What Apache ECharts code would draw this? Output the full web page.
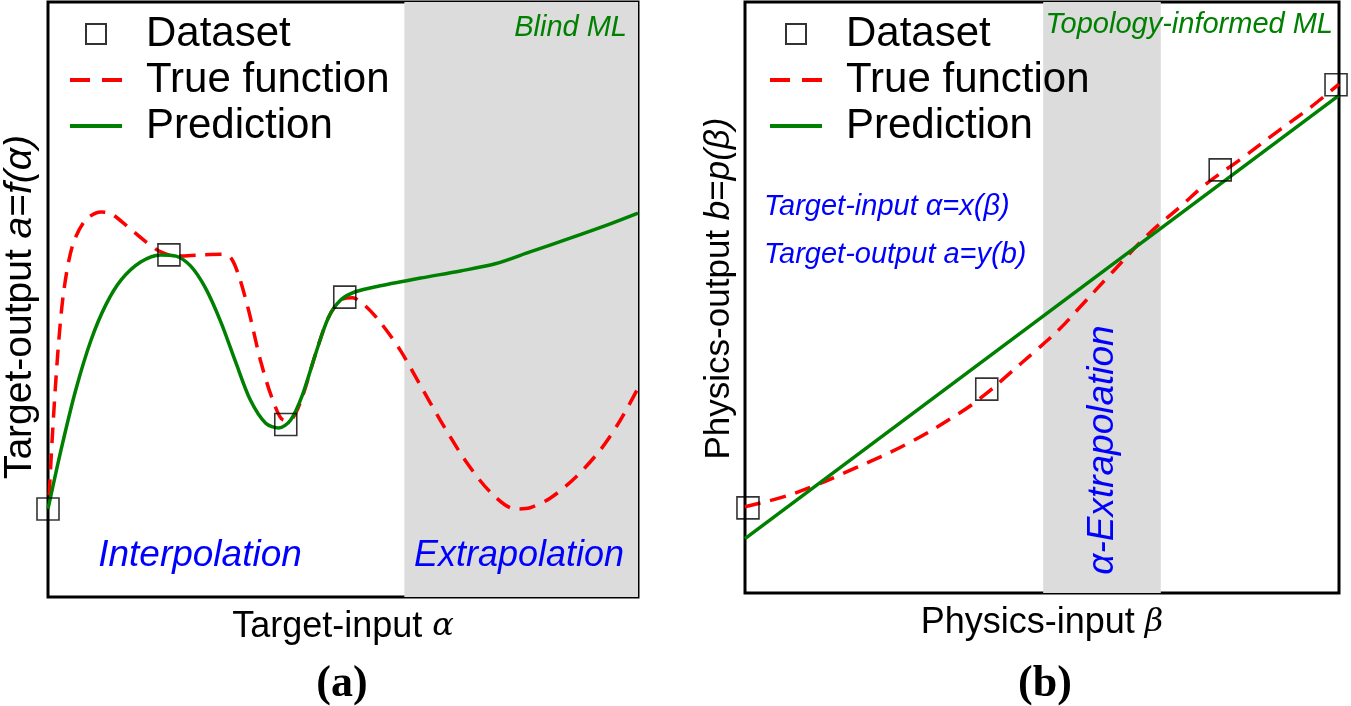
<!DOCTYPE html>
<html>
<head>
<meta charset="utf-8">
<script src="https://cdn.jsdelivr.net/npm/echarts@6/dist/echarts.min.js"></script>
<style>
  html, body { margin: 0; padding: 0; background: #fff; }
  #chart { width: 1351px; height: 706px; }
</style>
</head>
<body>
<div id="chart"></div>
<script>
// panel (a): blind ML
const aTrueX = [0.02, 0.08, 0.17, 0.27, 0.42, 0.64, 0.90, 1.07, 1.32, 1.66, 1.91, 2.17, 2.59, 2.96, 3.10, 3.23, 3.40, 3.60, 3.81, 4.00, 4.15, 4.32, 4.53, 4.75, 4.96, 5.16, 5.38, 5.63, 5.97, 6.31, 6.65, 7.07, 7.50, 7.92, 8.17, 8.51, 8.93, 9.36, 9.70, 10.0];
const aTrueY = [1.71, 2.81, 4.15, 5.16, 5.92, 6.34, 6.47, 6.44, 6.25, 5.97, 5.80, 5.73, 5.75, 5.76, 5.70, 5.41, 4.82, 3.98, 3.31, 2.97, 3.01, 3.39, 4.07, 4.69, 4.99, 5.03, 4.89, 4.62, 4.15, 3.56, 2.97, 2.30, 1.76, 1.48, 1.50, 1.66, 2.00, 2.47, 2.97, 3.51];
const aPredX = [0, 0.22, 0.47, 0.73, 0.98, 1.24, 1.57, 1.91, 2.17, 2.42, 2.67, 2.93, 3.18, 3.43, 3.69, 3.91, 4.11, 4.31, 4.53, 4.75, 4.96, 5.21, 5.63, 6.31, 6.99, 7.58, 8.17, 8.85, 9.53, 10.0];
const aPredY = [1.48, 2.47, 3.48, 4.32, 4.91, 5.33, 5.63, 5.75, 5.73, 5.56, 5.19, 4.62, 3.95, 3.31, 2.92, 2.84, 2.97, 3.39, 4.07, 4.69, 4.99, 5.13, 5.23, 5.36, 5.48, 5.60, 5.80, 6.03, 6.27, 6.45];
const aDataX = [0, 2.05, 4.03, 5.03];
const aDataY = [1.48, 5.75, 2.90, 5.04];
const aExtrap = [6.04, 10];

// panel (b): topology-informed ML
const bTrueX = [0, 0.84, 1.87, 2.76, 3.62, 4.07, 4.46, 4.87, 5.30, 5.66, 6.14, 6.78, 7.32, 7.76, 8.33, 9.02, 9.51, 10.0];
const bTrueY = [1.46, 1.69, 2.12, 2.54, 3.05, 3.38, 3.72, 4.08, 4.47, 4.86, 5.38, 6.06, 6.53, 6.92, 7.33, 7.85, 8.21, 8.61];
const bPredX = [0, 10];
const bPredY = [0.92, 8.42];
const bDataX = [0.05, 4.07, 8.0, 9.95];
const bDataY = [1.44, 3.45, 7.16, 8.60];
const bExtrap = [5.02, 7.0];

const RED = '#ff0000';
const GREEN = '#008000';
const BLUE = '#0000ff';
const FONT = 'Liberation Sans';
// symbol that draws nothing, so the legend shows only the line
const NO_SYMBOL = 'path://M0,0M1,1';

function zip(xs, ys) {
    return xs.map((x, i) => [x, ys[i]]);
}

const chart = echarts.init(document.getElementById('chart'));

function panelSeries(idx, trueX, trueY, predX, predY, dataX, dataY, band, smoothPred) {
    return [
        {
            name: 'band' + idx,
            type: 'line',
            xAxisIndex: idx, yAxisIndex: idx,
            data: [],
            z: -1,
            silent: true,
            markArea: {
                silent: true,
                itemStyle: { color: '#dcdcdc' },
                data: [[{ xAxis: band[0] }, { xAxis: band[1] }]]
            }
        },
        {
            name: 'True function',
            type: 'line',
            xAxisIndex: idx, yAxisIndex: idx,
            data: zip(trueX, trueY),
            smooth: smoothPred ? 0.3 : 0.4,
            symbol: NO_SYMBOL,
            showSymbol: false,
            lineStyle: { color: RED, width: 3.5, type: [16, 10] },
            itemStyle: { color: RED },
            z: 2
        },
        {
            name: 'Prediction',
            type: 'line',
            xAxisIndex: idx, yAxisIndex: idx,
            data: zip(predX, predY),
            smooth: smoothPred ? 0.3 : false,
            symbol: NO_SYMBOL,
            showSymbol: false,
            lineStyle: { color: GREEN, width: 3.5 },
            itemStyle: { color: GREEN },
            z: 2
        },
        {
            name: 'Dataset',
            type: 'scatter',
            xAxisIndex: idx, yAxisIndex: idx,
            data: zip(dataX, dataY),
            symbol: 'rect',
            symbolSize: 22,
            itemStyle: { color: 'rgba(0,0,0,0)', borderColor: '#000', borderWidth: 1.6 },
            z: 3
        }
    ];
}

function legend(left) {
    return {
        left: left,
        top: 8,
        orient: 'vertical',
        selectedMode: false,
        itemWidth: 52,
        itemHeight: 20,
        itemGap: 4,
        textStyle: { fontFamily: FONT, fontSize: 42, color: '#000', padding: [0, 0, 0, 19] },
        data: [
            { name: 'Dataset', icon: 'path://M0,0M52,20M16,0H36V20H16Z' },
            { name: 'True function', lineStyle: { width: 4, type: [20, 12] } },
            { name: 'Prediction', lineStyle: { width: 4 } }
        ]
    };
}

function rich(size) {
    return {
        i: { fontFamily: FONT, fontStyle: 'italic', fontSize: size, color: '#000' },
        g: { fontFamily: 'DejaVu Serif', fontStyle: 'italic', fontSize: size - 4, color: '#000' }
    };
}

function xAxis(idx, name) {
    return {
        type: 'value', gridIndex: idx, min: 0, max: 10,
        axisLine: { show: false }, axisTick: { show: false },
        axisLabel: { show: false }, splitLine: { show: false },
        name: name, nameLocation: 'middle', nameGap: 12,
        nameTextStyle: { fontFamily: FONT, fontSize: 36, color: '#000', rich: rich(36) }
    };
}

function yAxis(idx, name, size, gap, pad) {
    return {
        type: 'value', gridIndex: idx, min: 0, max: 10,
        axisLine: { show: false }, axisTick: { show: false },
        axisLabel: { show: false }, splitLine: { show: false },
        name: name, nameLocation: 'middle', nameGap: gap,
        nameTextStyle: { fontFamily: FONT, fontSize: size, color: '#000', padding: pad, rich: rich(size) }
    };
}

function label(text, x, y, size, color, align, extra) {
    return Object.assign({
        type: 'text',
        x: x, y: y,
        z: 10,
        style: {
            text: text, x: 0, y: 0,
            fill: color,
            font: 'italic ' + size + 'px "' + FONT + '"',
            align: align, textAlign: align,
            verticalAlign: 'middle', textVerticalAlign: 'middle'
        }
    }, extra || {});
}

function panelTag(text, x) {
    return {
        type: 'text', x: x, y: 685, z: 10,
        style: {
            text: text, x: 0, y: 0, fill: '#000', font: 'bold 44px "Liberation Serif"',
            align: 'center', textAlign: 'center', verticalAlign: 'middle', textVerticalAlign: 'middle'
        }
    };
}

chart.setOption({
    animation: false,
    grid: [
        { left: 47, top: 2, width: 591, height: 595, show: true, borderColor: '#000', borderWidth: 3, backgroundColor: 'transparent', z: 1 },
        { left: 745, top: 2, width: 594, height: 591, show: true, borderColor: '#000', borderWidth: 3, backgroundColor: 'transparent', z: 1 }
    ],
    xAxis: [
        xAxis(0, 'Target-input {g|α}'),
        xAxis(1, 'Physics-input {g|β}')
    ],
    yAxis: [
        yAxis(0, 'Target-output {i|a}={i|f(α)}', 39, 8, [0, 15, 0, 0]),
        yAxis(1, 'Physics-output {i|b}={i|p(β)}', 35, 8, [0, 0, 0, 18])
    ],
    legend: [legend(63), legend(763)],
    series: [].concat(
        panelSeries(0, aTrueX, aTrueY, aPredX, aPredY, aDataX, aDataY, aExtrap, true),
        panelSeries(1, bTrueX, bTrueY, bPredX, bPredY, bDataX, bDataY, bExtrap, false)
    ),
    graphic: [
        label('Blind ML', 627, 28, 29, GREEN, 'right'),
        label('Interpolation', 200, 556, 37, BLUE, 'center'),
        label('Extrapolation', 519, 556, 36, BLUE, 'center'),
        label('Topology-informed ML', 1333, 25, 29, GREEN, 'right'),
        label('Target-input α=x(β)', 764, 207, 29, BLUE, 'left'),
        label('Target-output a=y(b)', 764, 255, 29, BLUE, 'left'),
        label('α-Extrapolation', 1103, 450, 37, BLUE, 'center', { rotation: Math.PI / 2 }),
        panelTag('(a)', 342),
        panelTag('(b)', 1045)
    ]
});
</script>
</body>
</html>
